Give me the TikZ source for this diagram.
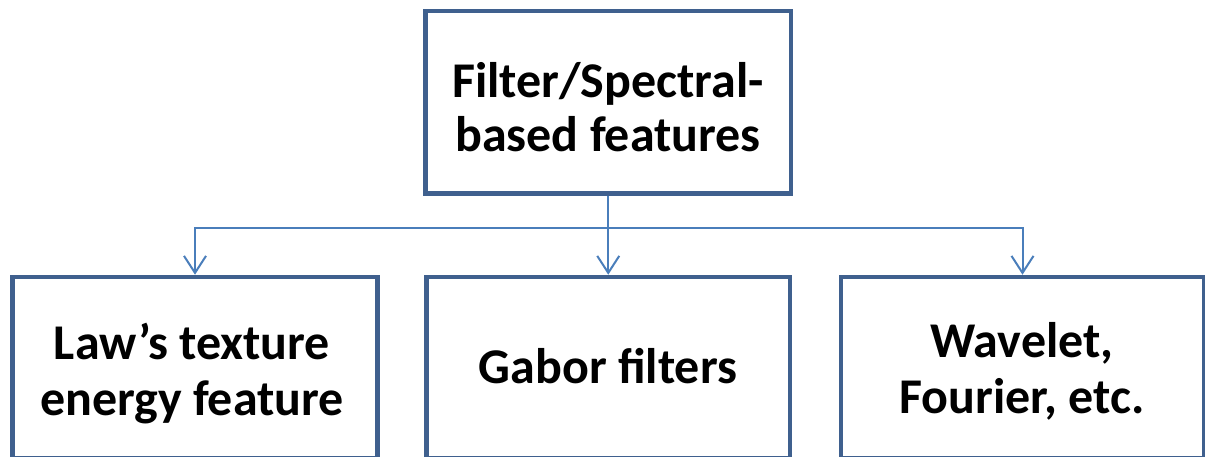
\documentclass[tikz,border=0pt]{standalone}
\usepackage{fontspec}
\setmainfont{Carlito}
\usetikzlibrary{arrows.meta,calc}
\definecolor{boxline}{RGB}{63,96,142}
\definecolor{linkline}{RGB}{74,126,187}
\begin{document}
\begin{tikzpicture}[x=1pt,y=1pt,
  box/.style={draw=boxline,line width=4.5pt,fill=white,minimum width=#1,inner sep=0pt},
  label text/.style={align=center,font=\fontsize{50}{#1}\selectfont\bfseries,text=black,inner sep=0pt},
  label text/.default=56pt,
  conn/.style={draw=linkline,line width=2pt,-{Straight Barb[length=17pt,width=22pt]}}]
  \useasboundingbox (0,0) rectangle (1205,456);
  \clip (0,0) rectangle (1205,456);

  % boxes
  \node[box=365.5pt,minimum height=182.5pt] (top)   at (608.25,353.75) {};
  \node[box=365pt,  minimum height=181pt]   (law)   at (195,88.5)      {};
  \node[box=363.5pt,minimum height=181pt]   (gabor) at (608.25,88.5)   {};
  \node[box=363pt,  minimum height=181pt]   (wave)  at (1022.5,88.5)   {};

  % box texts
  \node[label text=54pt] (toptxt)   at (608,349) {Filter/Spectral-\\based features};
  \node[label text]      (lawtxt)   at (192,82)  {Law’s texture\\energy feature};
  \node[label text]      (gabortxt) at (608,90)  {Gabor filters};
  \node[label text]      (wavetxt)  at (1022,85) {Wavelet,\\Fourier, etc.};

  % connectors
  \coordinate (split) at ($(top.south)+(0,-32.5)$);
  \draw[draw=linkline,line width=2pt] (top.south) -- (split);
  \draw[conn] (split) -| (law.north);
  \draw[conn] (split) -- (gabor.north);
  \draw[conn] (split) -| (wave.north);
\end{tikzpicture}
\end{document}
